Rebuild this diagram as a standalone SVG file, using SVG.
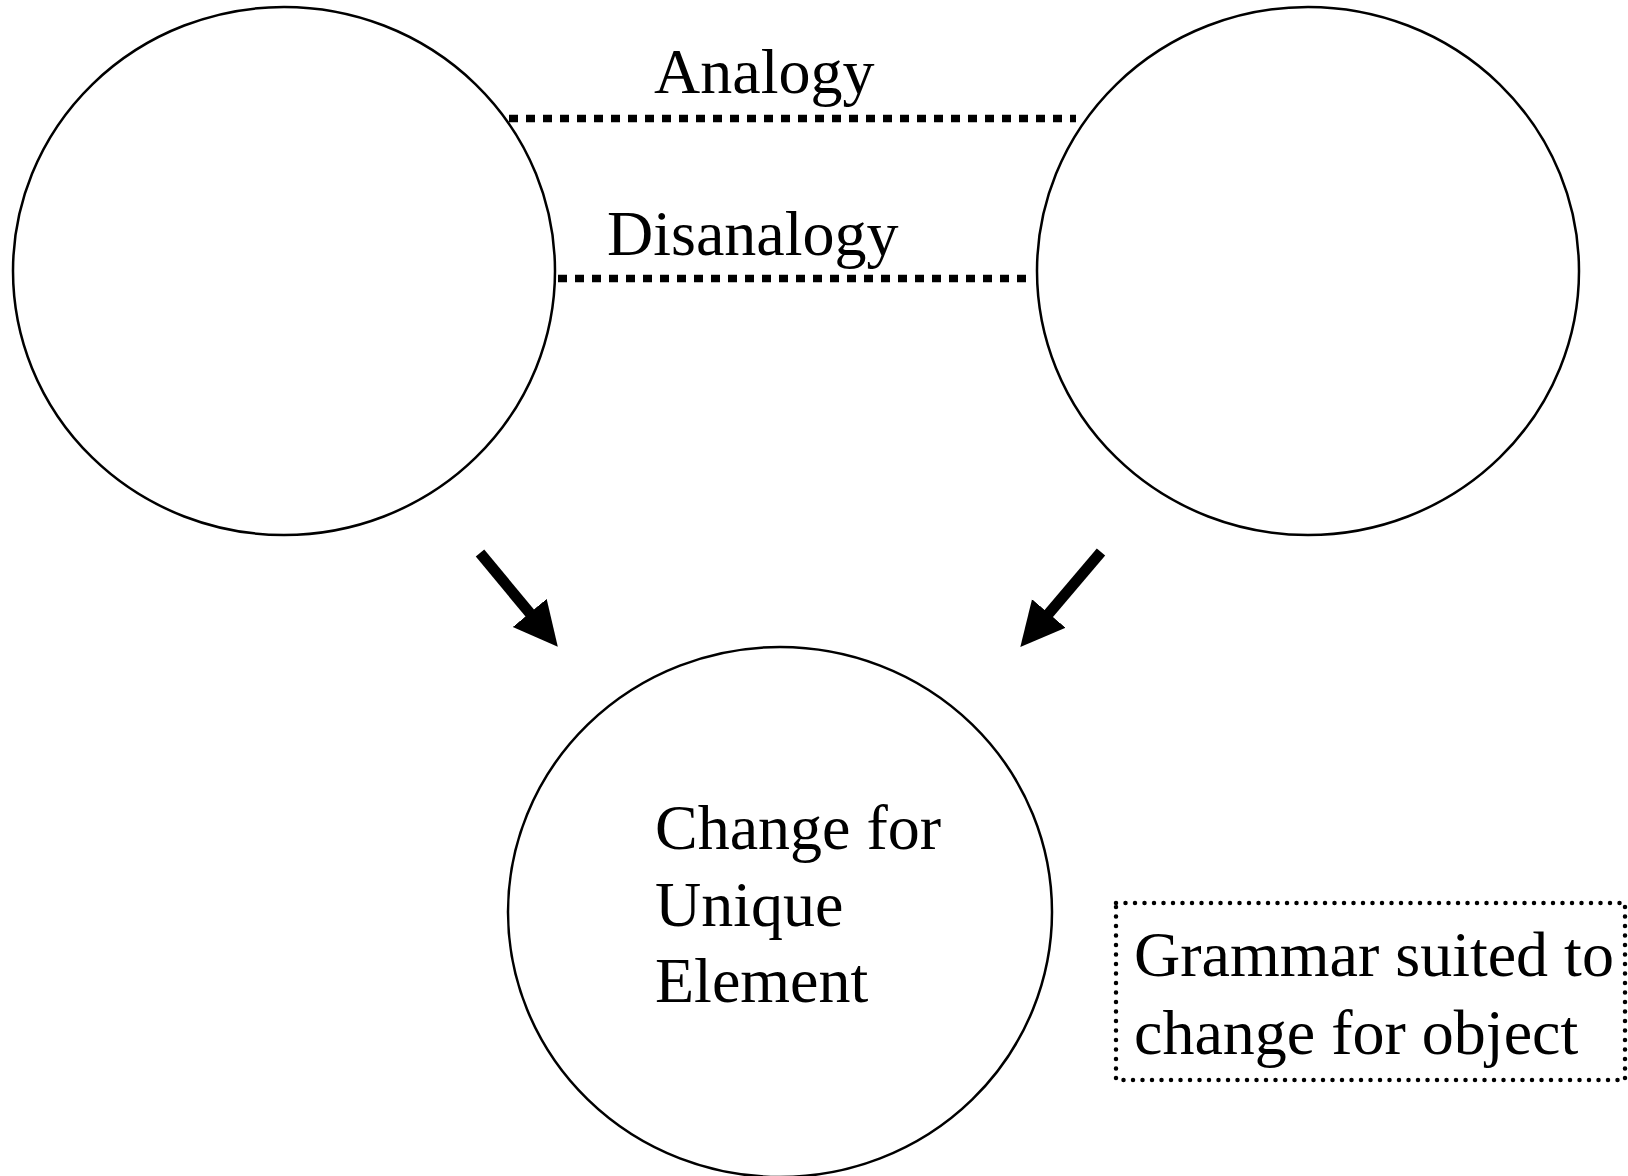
<svg xmlns="http://www.w3.org/2000/svg" width="1628" height="1176" viewBox="0 0 1628 1176">
<defs>
<style>
.node{fill:#fff;stroke:#000;stroke-width:2.5}
.lbl{font-family:"Liberation Serif","Times New Roman",serif;font-size:64px;fill:#000}
.dotline{stroke:#000;stroke-width:7.5;stroke-dasharray:9 8;fill:none}
.arrow{stroke:#000;stroke-width:11;fill:none}
.box{fill:none;stroke:#000;stroke-width:4.5;stroke-dasharray:0 9.5;stroke-linecap:round}
</style>
<marker id="head" markerUnits="userSpaceOnUse" markerWidth="50" markerHeight="46" refX="2" refY="22" orient="auto">
<path d="M0,0 L44,22 L0,44 z" fill="#000"/>
</marker>
</defs>
<rect width="1628" height="1176" fill="#fff"/>
<g id="left-node"><ellipse class="node" cx="284" cy="271" rx="271" ry="264"/></g>
<g id="right-node"><ellipse class="node" cx="1308" cy="271" rx="271" ry="264"/></g>
<g id="bottom-node">
<ellipse class="node" cx="780" cy="912" rx="272" ry="265"/>
<text class="lbl" x="655" y="849">Change for</text>
<text class="lbl" x="655" y="926">Unique</text>
<text class="lbl" x="655" y="1002">Element</text>
</g>
<g id="note">
<rect class="box" x="1116" y="903" width="509" height="177"/>
<text class="lbl" x="1134" y="976">Grammar suited to</text>
<text class="lbl" x="1134" y="1054">change for object</text>
</g>
<g id="connectors">
<line class="dotline" x1="509" y1="118.5" x2="1076" y2="118.5"/>
<text class="lbl" x="654" y="93">Analogy</text>
<line class="dotline" x1="558" y1="278.5" x2="1031" y2="278.5"/>
<text class="lbl" x="607" y="255">Disanalogy</text>
<line class="arrow" x1="480" y1="553" x2="531" y2="614.5" marker-end="url(#head)"/>
<line class="arrow" x1="1101" y1="552" x2="1047.5" y2="615" marker-end="url(#head)"/>
</g>
</svg>
